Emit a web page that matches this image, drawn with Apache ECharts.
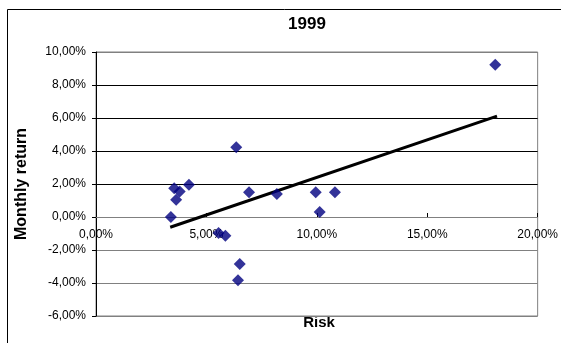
<!DOCTYPE html>
<html>
<head>
<meta charset="utf-8">
<script src="https://cdn.jsdelivr.net/npm/echarts@6/dist/echarts.min.js"></script>
<style>
  html, body { margin: 0; padding: 0; background: #ffffff; }
  #chart { width: 561px; height: 343px; }
</style>
</head>
<body>
<div id="chart"></div>
<script>
// Risk (x, %) and monthly return (y, %) of each fund in 1999
const riskPct   = [18.08, 6.35, 3.54, 3.79, 3.63, 4.21, 3.39, 6.93, 8.19, 9.95, 10.82, 10.13, 5.55, 5.86, 6.51, 6.43];
const returnPct = [ 9.23, 4.22, 1.75, 1.55, 1.04, 1.95, 0.00, 1.50, 1.40, 1.50,  1.50,  0.31, -0.97, -1.13, -2.85, -3.83];

// Linear trend line end points
const trendRisk   = [3.36, 18.16];
const trendReturn = [-0.62, 6.11];

// Axis tick values (%)
const xTickValues = [0, 5, 10, 15, 20];
const yTickValues = [-6, -4, -2, 0, 2, 4, 6, 8, 10];

const chartTitle = '1999';
const xAxisTitle = 'Risk';
const yAxisTitle = 'Monthly return';

const pct = v => v.toFixed(2).replace('.', ',') + '%';
const FONT = '"Liberation Sans", Arial, sans-serif';

const W = 561, H = 343;
const GRID = { left: 96, right: 17, top: 52, bottom: 27 };

// The horizontal axis crosses the vertical one at 0 %: lift it from the
// bottom edge of the plot by the share of the range that lies below zero.
const yMin = yTickValues[0], yMax = yTickValues[yTickValues.length - 1];
const plotHeight = H - GRID.top - GRID.bottom;
const xAxisLift = (0 - yMin) / (yMax - yMin) * plotHeight;

// Gridlines: black above zero, grey from zero down and at the top edge
const gridColors = yTickValues.map(v => (v > 0 && v < yMax) ? '#000000' : '#808080');

const chart = echarts.init(document.getElementById('chart'), null, { renderer: 'canvas' });

chart.setOption({
  animation: false,
  backgroundColor: '#ffffff',
  grid: Object.assign({
    show: true, borderColor: '#808080', borderWidth: 1, backgroundColor: 'transparent'
  }, GRID),
  xAxis: {
    type: 'value',
    position: 'bottom',
    offset: -xAxisLift,
    min: xTickValues[0],
    max: xTickValues[xTickValues.length - 1],
    interval: xTickValues[1] - xTickValues[0],
    axisLine: { onZero: false, lineStyle: { color: '#808080', width: 1 } },
    axisTick: { show: true, inside: true, length: 4, lineStyle: { color: '#000000' } },
    axisLabel: { formatter: pct, color: '#000000', fontFamily: FONT, fontSize: 12, margin: 12 },
    splitLine: { show: false }
  },
  yAxis: {
    type: 'value',
    min: yMin,
    max: yMax,
    interval: yTickValues[1] - yTickValues[0],
    axisLine: { show: true, onZero: false, lineStyle: { color: '#000000', width: 1 } },
    axisTick: { show: true, inside: false, length: 4, lineStyle: { color: '#000000' } },
    axisLabel: { formatter: pct, color: '#000000', fontFamily: FONT, fontSize: 12, margin: 10 },
    splitLine: { show: true, lineStyle: { color: gridColors, width: 1 } }
  },
  series: [
    {
      type: 'line',
      data: trendRisk.map((x, i) => [x, trendReturn[i]]),
      showSymbol: false,
      symbol: 'none',
      lineStyle: { color: '#000000', width: 3 },
      z: 2,
      silent: true
    },
    {
      type: 'scatter',
      data: riskPct.map((x, i) => [x, returnPct[i]]),
      symbol: 'diamond',
      symbolSize: 12,
      itemStyle: { color: '#000080' },
      z: 3
    }
  ],
  graphic: [
    {
      type: 'rect',
      shape: { x: 7.5, y: 9.5, width: 700, height: 500 },
      style: { fill: null, stroke: '#000000', lineWidth: 1 },
      silent: true
    },
    {
      type: 'text', x: 307, y: 24,
      style: { text: chartTitle, font: 'bold 17px ' + FONT, fill: '#000000', align: 'center', verticalAlign: 'middle' }
    },
    {
      type: 'text', x: 319, y: 323,
      style: { text: xAxisTitle, font: 'bold 15px ' + FONT, fill: '#000000', align: 'center', verticalAlign: 'middle' }
    },
    {
      type: 'text', x: 22, y: 184, rotation: Math.PI / 2,
      style: { text: yAxisTitle, font: 'bold 16px ' + FONT, fill: '#000000', align: 'center', verticalAlign: 'middle' }
    }
  ]
});
</script>
</body>
</html>
